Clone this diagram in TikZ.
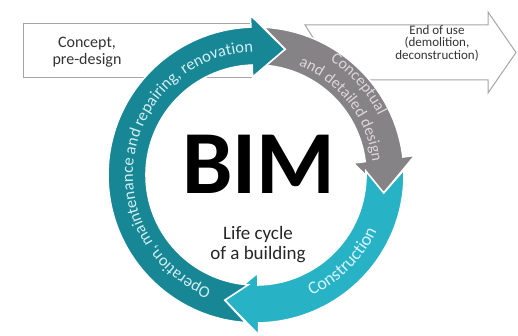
\documentclass[tikz,border=0pt]{standalone}
\usepackage{fontspec}
\setmainfont{Carlito}
\usetikzlibrary{decorations.text}

\definecolor{opteal}{RGB}{23,135,150}
\definecolor{conscyan}{RGB}{40,178,198}
\definecolor{desgray}{RGB}{133,131,133}
\definecolor{boxgray}{RGB}{165,165,165}
\definecolor{optext}{RGB}{212,238,242}
\definecolor{destext}{RGB}{218,214,218}
\definecolor{constext}{RGB}{214,244,248}

\begin{document}
\begin{tikzpicture}[x=1pt,y=1pt,
	seg/.style={draw=white,line width=1.6pt,line join=miter},
	box/.style={draw=boxgray,fill=white,line width=1pt},
	ringtext/.style={decorate,decoration={text along path,text align=center,text={#1}}}]
	\useasboundingbox (0,0) rectangle (518,336);
	\draw[box] (23,312) rectangle (252,258);
	\node[align=center,font=\fontsize{16}{17}\selectfont,text=black!80] (concept) at (87,284) {Concept,\\pre-design};
	\draw[box] (305,311) -- (488,311) -- (488,324) -- (516,283.5) -- (488,243) -- (488,256) -- (340,256) -- cycle;
	\node[align=center,font=\fontsize{13}{12.5}\selectfont,text=black!80] (enduse) at (437,293) {End of use\\(demolition,\\deconstruction)};
	\begin{scope}[shift={(256,161)}]
		\filldraw[seg,fill=desgray] (87:148) arc[start angle=87,end angle=7,radius=148] -- (7:160) -- (-8:129) -- (7:98) -- (7:110) arc[start angle=7,end angle=87,radius=110] -- (77:129) -- cycle;
		\filldraw[seg,fill=conscyan] (2:148) arc[start angle=2,end angle=-89,radius=148] -- (-89:160) -- (-104:129) -- (-89:98) -- (-89:110) arc[start angle=-89,end angle=2,radius=110] -- (-8:129) -- cycle;
		\filldraw[seg,fill=opteal] (266:148) arc[start angle=266,end angle=92,radius=148] -- (92:160) -- (77:129) -- (92:98) -- (92:110) arc[start angle=92,end angle=266,radius=110] -- (256:129) -- cycle;
		\path[ringtext={|\color{optext}\fontsize{16.5}{16.5}\selectfont|Operation, maintenance and repairing, renovation}] (275:123) arc[start angle=275,end angle=65,radius=123];
		\path[ringtext={|\color{destext}\fontsize{16}{16}\selectfont|Conceptual}] (88:136) arc[start angle=88,end angle=-5,radius=136];
		\path[ringtext={|\color{destext}\fontsize{16}{16}\selectfont|and detailed design}] (80:117) arc[start angle=80,end angle=-5,radius=117];
		\path[ringtext={|\color{constext}\fontsize{18}{18}\selectfont|Construction}] (-100:133) arc[start angle=-100,end angle=10,radius=133];
	\end{scope}
	\node[font=\fontsize{90}{90}\selectfont\bfseries] (bim) at (259,172) {BIM};
	\node[align=center,font=\fontsize{19}{20}\selectfont,text=black!85] (life) at (258,91) {Life cycle\\of a building};
\end{tikzpicture}
\end{document}
